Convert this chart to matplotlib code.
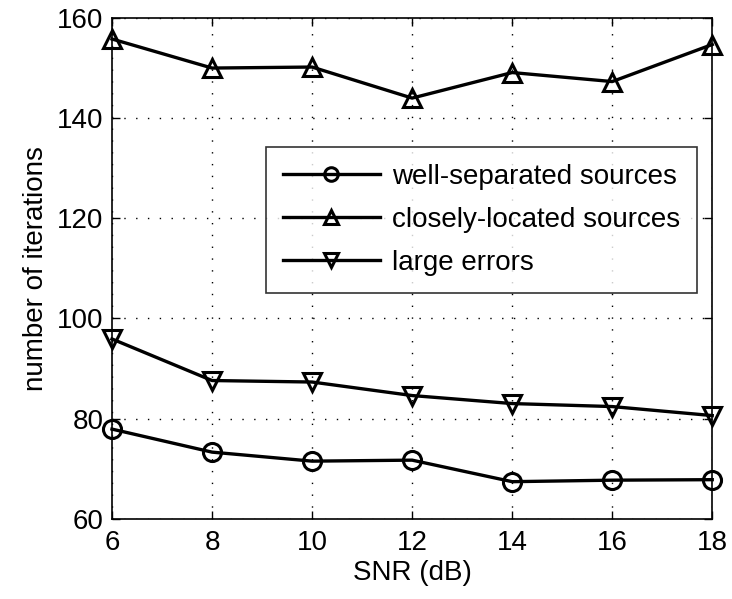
import matplotlib
matplotlib.use('Agg')
import matplotlib.pyplot as plt

snr = [6, 8, 10, 12, 14, 16, 18]
well_separated = [77.9, 73.3, 71.5, 71.7, 67.4, 67.7, 67.8]
closely_located = [155.8, 150.0, 150.2, 144.0, 149.1, 147.3, 154.7]
large_errors = [95.9, 87.6, 87.3, 84.6, 83.0, 82.4, 80.6]

plt.rcParams['font.family'] = ['Liberation Sans', 'DejaVu Sans']

fig = plt.figure(figsize=(7.32, 5.99), dpi=100)
ax = fig.add_axes([0.153, 0.134, 0.820, 0.836])

style = dict(color='black', linewidth=2.4, markersize=13, markeredgewidth=2.2,
             markerfacecolor='none', clip_on=False)
ax.plot(snr, well_separated, marker='o', label='well-separated sources', **style)
ax.plot(snr, closely_located, marker='^', label='closely-located sources', **style)
ax.plot(snr, large_errors, marker='v', label='large errors', **style)

ax.set_xlim(6, 18)
ax.set_ylim(60, 160)
ax.set_xticks(snr)
ax.set_yticks([60, 80, 100, 120, 140, 160])
ax.grid(True, color='black', linestyle=(0, (1, 7.5)), linewidth=1.0)
ax.tick_params(direction='in', length=6, labelsize=20, top=True, right=True, width=1)
ax.tick_params(axis='x', pad=8)
ax.tick_params(axis='y', pad=6)
for s in ax.spines.values():
    s.set_linewidth(1.2)

ax.set_xlabel('SNR (dB)', fontsize=20, labelpad=3)
ax.set_ylabel('number of iterations', fontsize=20, labelpad=6)

leg = ax.legend(loc='upper right', bbox_to_anchor=(0.975, 0.7425), borderaxespad=0,
                fontsize=20, frameon=True, fancybox=False, edgecolor='black',
                handlelength=3.5, handletextpad=0.45, borderpad=0.6,
                labelspacing=0.62, markerscale=0.75)
leg.get_frame().set_linewidth(1.2)

fig.savefig('out.png', dpi=100)
